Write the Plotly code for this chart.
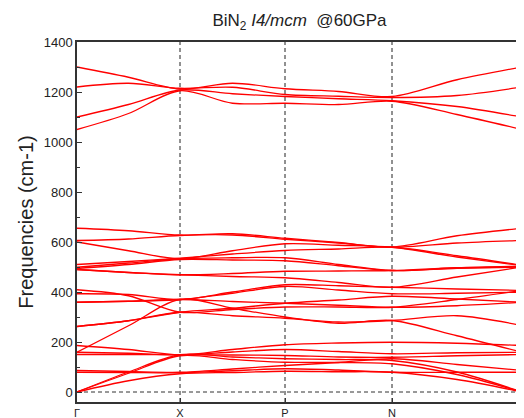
import plotly.graph_objects as go

# k-path positions (path length units) and labels
k_points = [0, 51.5, 103, 155.5, 208, 261.5, 315, 380, 445]
k_labels = ["Γ", "X", "P", "N", "Γ"]
k_label_pos = [0, 103, 208, 315, 445]

# bands: values at Γ, mid, X, mid, P, mid, N, mid, Γ  (cm-1)
band_hi_a = [1300, 1259, 1212, 1235, 1213, 1202, 1182, 1249, 1300]
band_hi_b = [1220, 1235, 1215, 1219, 1190, 1183, 1178, 1186, 1220]
band_hi_c = [1100, 1150, 1208, 1193, 1182, 1173, 1165, 1142, 1100]
band_hi_d = [1050, 1114, 1205, 1155, 1155, 1150, 1163, 1110, 1050]

band_b1 = [655, 645, 628, 633, 615, 598, 580, 625, 655]
band_b2 = [606, 612, 626, 628, 611, 596, 579, 596, 606]
band_b3 = [600, 565, 533, 565, 593, 587, 579, 540, 505]
band_b4 = [510, 522, 535, 552, 566, 572, 579, 545, 507]
band_b5 = [499, 516, 533, 537, 537, 510, 486, 497, 503]
band_b6 = [494, 510, 530, 528, 525, 505, 486, 495, 500]
band_b7 = [490, 478, 469, 474, 483, 484, 486, 497, 500]
band_b8 = [490, 478, 469, 462, 457, 438, 419, 460, 500]

band_mA = [409, 385, 319, 330, 340, 340, 339, 370, 406]
band_mB = [393, 390, 370, 400, 429, 425, 419, 412, 406]
band_mC = [359, 363, 370, 395, 422, 408, 393, 395, 399]
band_mD = [262, 285, 319, 335, 355, 368, 383, 372, 359]
band_mE = [159, 265, 370, 335, 300, 275, 286, 225, 159]
band_mF = [262, 285, 319, 305, 295, 280, 286, 305, 266]
band_mG = [359, 363, 370, 362, 355, 347, 339, 345, 359]

band_l1 = [186, 170, 149, 170, 189, 196, 199, 195, 186]
band_l2 = [159, 155, 149, 160, 170, 162, 153, 157, 159]
band_l3 = [150, 150, 149, 148, 146, 140, 139, 145, 150]
band_l4 = [0, 80, 149, 140, 133, 130, 126, 80, 0]
band_l5 = [0, 75, 145, 130, 119, 118, 113, 70, 0]
band_l6 = [86, 82, 79, 92, 106, 118, 133, 110, 86]
band_l7 = [79, 78, 77, 85, 93, 88, 79, 79, 79]
band_l8 = [0, 45, 73, 78, 83, 81, 79, 50, 0]

bands = [band_hi_a, band_hi_b, band_hi_c, band_hi_d,
         band_b1, band_b2, band_b3, band_b4, band_b5, band_b6, band_b7, band_b8,
         band_mA, band_mB, band_mC, band_mD, band_mE, band_mF, band_mG,
         band_l1, band_l2, band_l3, band_l4, band_l5, band_l6, band_l7, band_l8]

fig = go.Figure()
for b in bands:
    fig.add_trace(go.Scatter(x=k_points, y=b, mode="lines",
                             line=dict(color="#ff0000", width=1.3, shape="spline", smoothing=0.9),
                             showlegend=False, hoverinfo="skip"))

shapes = []
for xv in k_label_pos[1:-1]:
    shapes.append(dict(type="line", xref="x", yref="y", x0=xv, x1=xv, y0=-40, y1=1400,
                       line=dict(color="#222222", width=1, dash="4px,3px"), layer="below"))
shapes.append(dict(type="line", xref="x", yref="y", x0=0, x1=445, y0=0, y1=0,
                   line=dict(color="#333333", width=1, dash="4px,3px"), layer="below"))

fig.update_layout(
    width=516, height=410,
    margin=dict(l=69, r=2, t=34, b=16, autoexpand=False),
    paper_bgcolor="white", plot_bgcolor="white",
    font=dict(family="Liberation Sans, Arial, sans-serif", color="#222222"),
    title=dict(text="BiN<sub>2</sub> <i>I4/mcm</i>\u00a0 @60GPa", x=0.5, xref="paper",
               y=0.970, yref="container", xanchor="center", yanchor="middle",
               font=dict(size=17, color="#222222")),
    shapes=shapes,
)
fig.update_xaxes(range=[0, 445], tickmode="array", tickvals=k_label_pos, ticktext=k_labels,
                 ticks="inside", ticklen=4, tickcolor="#333333", showgrid=False, zeroline=False,
                 showline=True, linecolor="#333333", linewidth=1.5, mirror=True, automargin=False,
                 tickfont=dict(size=11, color="#222222"))
fig.update_yaxes(range=[-40, 1400], tickmode="linear", tick0=0, dtick=200,
                 ticks="inside", ticklen=5, tickcolor="#333333", showgrid=False, zeroline=False,
                 showline=True, linecolor="#333333", linewidth=1.5, mirror="ticks", automargin=False,
                 minor=dict(ticks="inside", ticklen=3, dtick=100, tick0=0, tickcolor="#333333"),
                 tickfont=dict(size=13, color="#222222"),
                 title=dict(text="Frequencies (cm-1)", font=dict(size=20, color="#222222"), standoff=5))

fig.write_html("out.html")
